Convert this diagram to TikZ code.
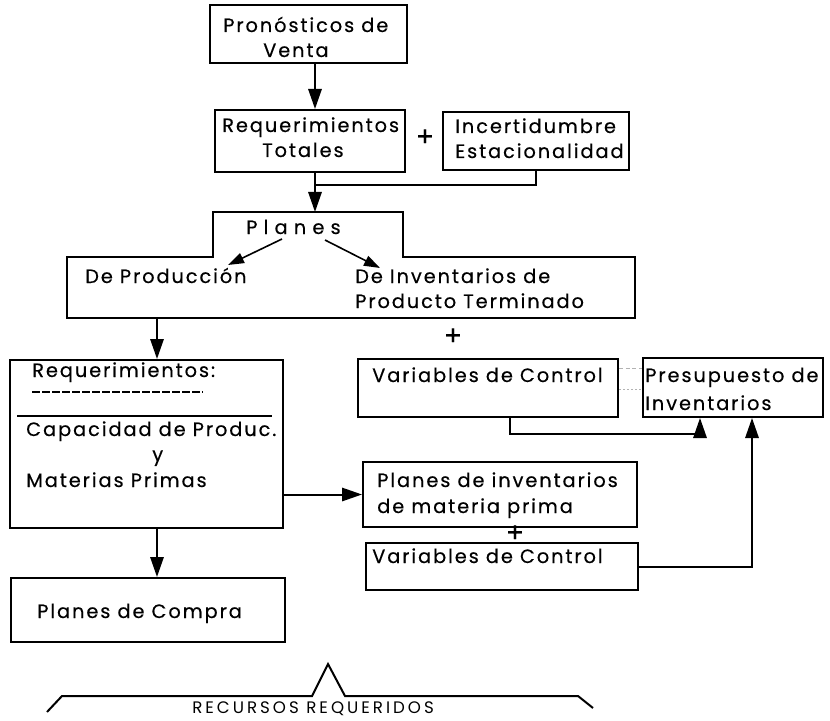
\documentclass[tikz,border=0pt]{standalone}
\usepackage{fontspec}
\usetikzlibrary{arrows.meta}
\newfontfamily\pf[LetterSpace=10,FakeBold=0.4]{Poppins}
\newfontfamily\pfwide[LetterSpace=32,FakeBold=0.4]{Poppins}
\newfontfamily\pfcaps[LetterSpace=18]{Poppins}
\begin{document}
\begin{tikzpicture}[x=0.75pt,y=-0.75pt,
  box/.style={draw,line width=1.5pt,inner sep=0pt},
  txt/.style={font=\pf\fontsize{14.5pt}{17pt}\selectfont,inner sep=0pt,anchor=base west},
  plus/.style={font=\pf\fontsize{20pt}{22pt}\selectfont,inner sep=0pt,anchor=base},
  conn/.style={line width=1.5pt},
  arr/.style={line width=1.5pt,-{Triangle[length=15pt,width=10pt]}},
  sarr/.style={line width=1.2pt,-{Triangle[length=12pt,width=8pt]}}]
\useasboundingbox (0,0) rectangle (830,720);

% column coordinates
\coordinate (c1) at (315,0);
\coordinate (c2) at (536,0);
\coordinate (c3) at (157,0);
\coordinate (c5) at (752,0);
\coordinate (c6) at (510,0);
\coordinate (c7) at (700,0);
\coordinate (j1) at (315,185);

% boxes
\node[box,minimum width=147.75pt,minimum height=43.5pt] (pron) at (308.5,34) {};
\node[box,minimum width=142.5pt,minimum height=46.5pt] (req) at (310,141) {};
\node[box,minimum width=139.5pt,minimum height=43.5pt] (inc) at (536,141) {};
\node[box,minimum width=204.75pt,minimum height=126pt] (reqmp) at (146.5,444) {};
\node[box,minimum width=205.5pt,minimum height=48pt] (compra) at (148,610) {};
\node[box,minimum width=195pt,minimum height=43.5pt] (vc1) at (488,388) {};
\node[box,minimum width=135pt,minimum height=44.25pt] (pres) at (733,387.5) {};
\node[box,minimum width=205.5pt,minimum height=48.75pt] (pim) at (500,494.5) {};
\node[box,minimum width=204pt,minimum height=35.25pt] (vc2) at (502,566.5) {};

% Planes stepped box
\draw[line width=1.5pt] (213,212) -- (403,212) -- (403,257) -- (635,257) -- (635,318)
  -- (67,318) -- (67,257) -- (213,257) -- cycle;
\coordinate (pltop) at (315,212);
\coordinate (plbot) at (157,318);

% texts
\node[txt] (t1) at (223,32) {Pronósticos de};
\node[txt] (t2) at (263,57) {Venta};
\node[txt] (t3) at (222,132) {Requerimientos};
\node[txt] (t4) at (262,157) {Totales};
\node[txt] (t5) at (455,133) {Incertidumbre};
\node[txt] (t6) at (455,158) {Estacionalidad};
\node[plus] (p1) at (425,146) {+};
\node[font=\pfwide\fontsize{14.5pt}{17pt}\selectfont,inner sep=0pt,anchor=base west] (planesT) at (246,234) {Planes};
\node[txt] (prod) at (85,283) {De Producción};
\node[txt] (inv1) at (355,283) {De Inventarios de};
\node[txt] (inv2) at (355,308) {Producto Terminado};
\node[plus] (p2) at (453,345) {+};
\node[txt] (r1) at (32,377) {Requerimientos:};
\node[txt] (r2) at (26,436) {Capacidad de Produc.};
\node[txt] (r3) at (152,461) {y};
\node[txt] (r4) at (26,487) {Materias Primas};
\node[txt] (cp) at (37,618) {Planes de Compra};
\node[txt] (v1) at (372,382) {Variables de Control};
\node[txt] (ps1) at (645,382) {Presupuesto de};
\node[txt] (ps2) at (645,410) {Inventarios};
\node[txt] (pi1) at (377,487) {Planes de inventarios};
\node[txt] (pi2) at (377,513) {de materia prima};
\node[plus] (p3) at (515,542) {+};
\node[txt] (v2) at (372,563) {Variables de Control};
\node[font=\pfcaps\fontsize{12.5pt}{15pt}\selectfont,inner sep=0pt,anchor=base west] (rr) at (192,713) {RECURSOS REQUERIDOS};

% underline and separator in Requerimientos box
\draw[line width=0.9pt,dash pattern=on 6pt off 1.5pt] (32,392) -- (203,392);
\draw[line width=1.2pt] (17,416) -- (272,416);

% connectors
\draw[arr] (pron.south -| c1) -- (req.north -| c1);
\draw[arr] (req.south -| c1) -- (pltop);
\draw[conn] (inc.south -| c2) |- (j1);
\draw[sarr] (282,239) -- (228,265);
\draw[sarr] (325,240) -- (380,268);
\draw[arr] (plbot) -- (reqmp.north -| c3);
\draw[arr] (reqmp.south -| c3) -- (compra.north -| c3);
\draw[arr] (reqmp.east |- pim.west) -- (pim.west);
\draw[arr] (vc2.east) -| (pres.south -| c5);
\draw[arr] (vc1.south -| c6) -- ++(0,16) -| (pres.south -| c7);

% faint dotted marks between the control boxes
\draw[gray!60,line width=0.6pt,dash pattern=on 3pt off 2pt] (vc1.east |- 0,368) -- (pres.west |- 0,368);
\draw[gray!60,line width=0.6pt,dash pattern=on 1.5pt off 1.5pt] (vc1.east |- 0,389) -- (pres.west |- 0,389);

% brace
\draw[line width=1.5pt] (47,712) -- (62,696) -- (312,696) -- (328,664) -- (345,696) -- (578,696) -- (593,708);
\end{tikzpicture}
\end{document}
